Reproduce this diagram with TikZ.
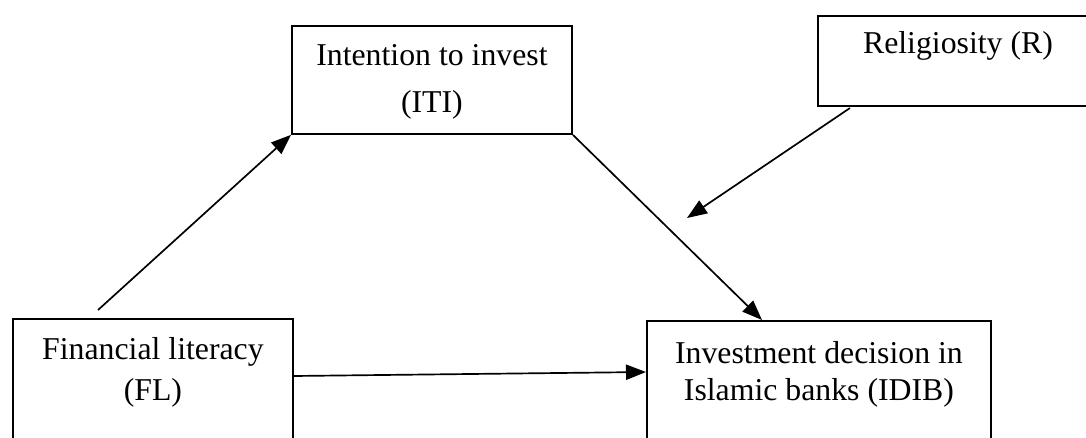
\documentclass[tikz,border=0pt]{standalone}
\usepackage{fontspec}
\setmainfont{Liberation Serif}
\usetikzlibrary{arrows.meta}

\tikzset{
	box/.style={draw, line width=1.3pt, inner sep=0pt, anchor=north west},
	txt/.style={anchor=north, inner sep=0pt, align=center},
	link/.style={-{Triangle[length=0.5cm, width=0.38cm]}, line width=1.2pt}
}

\begin{document}
\begin{tikzpicture}[x=0.025cm, y=-0.025cm]
		\clip (0, 0) rectangle (1086, 437);
		\useasboundingbox (0, 0) rectangle (1086, 437);

		\node[box, minimum width=7cm, minimum height=2.7cm] (iti) at (291, 25) {};
		\node[box, minimum width=7cm, minimum height=2.25cm] (rel) at (817, 15) {};
		\node[box, minimum width=7cm, minimum height=3.75cm] (fl) at (12, 318) {};
		\node[box, minimum width=8.6cm, minimum height=3.75cm] (idib) at (646, 320) {};

		\node[txt, font=\fontsize{22.6}{33.4}\selectfont] (ititext) at ([yshift=-0.475cm]iti.north) {Intention to invest\\(ITI)};
		\node[txt, font=\fontsize{22.6}{27}\selectfont] (reltext) at ([yshift=-0.4cm]rel.north) {Religiosity (R)};
		\node[txt, font=\fontsize{22.6}{29.2}\selectfont] (fltext) at ([yshift=-0.475cm]fl.north) {Financial literacy\\(FL)};
		\node[txt, font=\fontsize{22.6}{26.3}\selectfont] (idibtext) at ([yshift=-0.525cm]idib.north) {Investment decision in\\Islamic banks (IDIB)};

		\coordinate (flup) at (98, 310);
		\coordinate (flright) at (293, 376);
		\coordinate (idibleft) at (646, 372);
		\coordinate (idibtop) at (762, 320);
		\coordinate (relout) at (850, 108);
		\coordinate (moderate) at (687, 218);

		\draw[link] (flup) to (iti.south west);
		\draw[link] (iti.south east) to (idibtop);
		\draw[link] (relout) to (moderate);
		\draw[link] (flright) to (idibleft);
	\end{tikzpicture}
\end{document}
